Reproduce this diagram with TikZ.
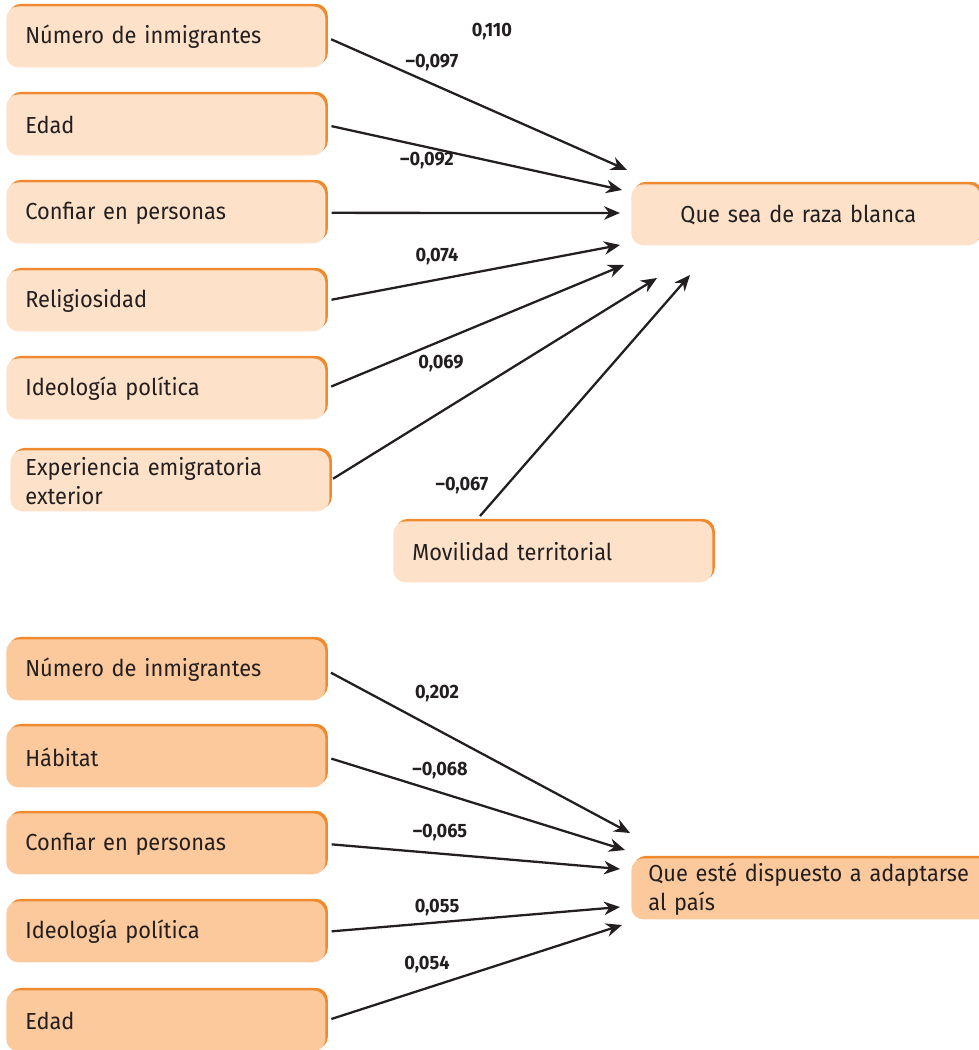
\documentclass[tikz,border=0pt]{standalone}
\usepackage{fontspec}
\setmainfont[FakeStretch=0.94]{Fira Sans}
\usetikzlibrary{arrows.meta,shadows}
\definecolor{paleorange}{HTML}{FDE1C8}
\definecolor{midorange}{HTML}{FCC99C}
\definecolor{edgeorange}{HTML}{F08A2F}
\definecolor{ink}{HTML}{231F20}
\tikzset{
  varbox/.style={anchor=north west, rounded corners=0.24cm, fill=paleorange,
    drop shadow={shadow xshift=0.05cm, shadow yshift=0.05cm, fill=edgeorange, opacity=1},
    minimum height=1.22cm, text width=5.62cm, inner xsep=0.38cm, inner ysep=0pt,
    align=left, text=ink, font=\fontsize{13.2}{16.4}\selectfont},
  darkbox/.style={varbox, fill=midorange},
  coef/.style={text=ink, inner sep=0pt, font=\bfseries\fontsize{11}{13}\selectfont},
  effect/.style={draw=ink, line width=1.3pt, shorten <=0.12cm,
    -{Stealth[length=0.32cm,width=0.27cm]}}
}
\begin{document}
\begin{tikzpicture}[x=0.02cm,y=-0.02cm]
  \useasboundingbox (0,0) rectangle (979,1050);
  % first model
  \node[varbox] (num1) at (6,6) {Número de inmigrantes};
  \node[varbox] (edad1) at (6,94) {Edad};
  \node[varbox] (conf1) at (6,182) {Confiar en personas};
  \node[varbox] (relig) at (6,270) {Religiosidad};
  \node[varbox] (ideo1) at (6,358) {Ideología política};
  \node[varbox, text width=5.78cm, inner xsep=0.3cm] (expe) at (10,450) {Experiencia emigratoria\\exterior};
  \node[varbox] (movil) at (393,521) {Movilidad territorial};
  \node[varbox, text width=6.98cm, inner xsep=0pt, align=center] (raza) at (631,184) {Que sea de raza blanca\hspace*{0.3cm}};
  \coordinate (r1) at (627,170);
  \coordinate (r2) at (622,190);
  \coordinate (r3) at (620,213);
  \coordinate (r4) at (620,245);
  \coordinate (r5) at (624,265);
  \coordinate (r6) at (657,278);
  \coordinate (r7) at (690,275);
  \coordinate (m0) at (480,516);
  \draw[effect] (num1.east) -- (r1);
  \draw[effect] (edad1.east) -- (r2);
  \draw[effect] (conf1.east) -- (r3);
  \draw[effect] (relig.east) -- (r4);
  \draw[effect] (ideo1.east) -- (r5);
  \draw[effect, shorten <=0.08cm] (expe.east) -- (r6);
  \draw[effect, shorten <=0pt] (m0) -- (r7);
  \node[coef] (c1) at (492,32) {0,110};
  \node[coef] (c2) at (432,63) {--0,097};
  \node[coef] (c3) at (427,161) {--0,092};
  \node[coef] (c4) at (437,257) {0,074};
  \node[coef] (c5) at (441,364) {0,069};
  \node[coef] (c6) at (462,486) {--0,067};
  % second model
  \node[darkbox] (num2) at (6,639) {Número de inmigrantes};
  \node[darkbox] (habitat) at (6,726) {Hábitat};
  \node[darkbox] (conf2) at (6,813) {Confiar en personas};
  \node[darkbox] (ideo2) at (6,901) {Ideología política};
  \node[darkbox] (edad2) at (6,990) {Edad};
  \node[darkbox, text width=6.8cm, inner xsep=0.34cm] (adapta) at (631,858) {Que esté dispuesto a adaptarse\\al país};
  \coordinate (a1) at (630,833);
  \coordinate (a2) at (625,850);
  \coordinate (a3) at (620,869);
  \coordinate (a4) at (620,907);
  \coordinate (a5) at (622,925);
  \draw[effect] (num2.east) -- (a1);
  \draw[effect] (habitat.east) -- (a2);
  \draw[effect] (conf2.east) -- (a3);
  \draw[effect] (ideo2.east) -- (a4);
  \draw[effect] (edad2.east) -- (a5);
  \node[coef] (d1) at (437,694) {0,202};
  \node[coef] (d2) at (440,771) {--0,068};
  \node[coef] (d3) at (440,833) {--0,065};
  \node[coef] (d4) at (437,908) {0,055};
  \node[coef] (d5) at (427,965) {0,054};
\end{tikzpicture}
\end{document}
